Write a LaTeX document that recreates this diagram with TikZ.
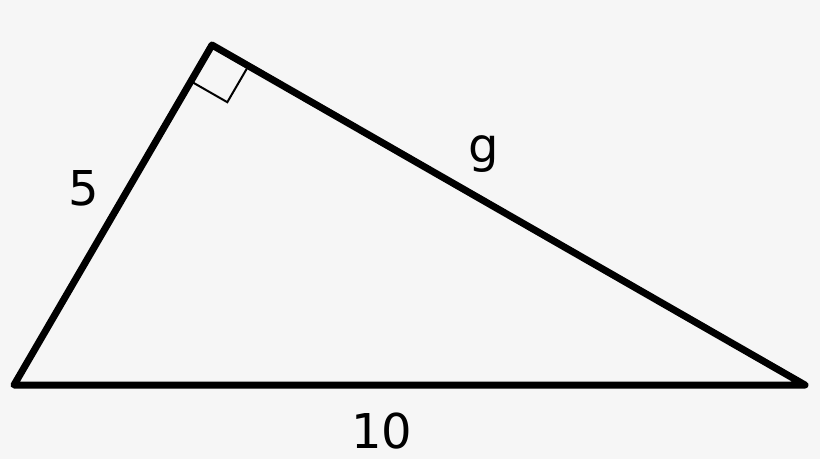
\documentclass[tikz,border=0pt]{standalone}
\usepackage{fontspec}
\setmainfont{DejaVu Sans}
\usetikzlibrary{calc}
\definecolor{paper}{RGB}{246,246,246}

\begin{document}
\begin{tikzpicture}[x=1pt,y=-1pt,every node/.style={inner sep=0,outer sep=0,font=\fontsize{48}{58}\selectfont},
    side/.style={line width=7pt,line join=round,line cap=round}]
	\fill[paper] (0,0) rectangle (820,459);
	\useasboundingbox (0,0) rectangle (820,459);
	\coordinate (A) at (14,385);
	\coordinate (B) at (212,45);
	\coordinate (C) at (805,385);
	% right angle mark
	\coordinate (P) at ($(B)!42pt!(A)$);
	\coordinate (Q) at ($(B)!42pt!(C)$);
	\draw[line width=2pt] (P) -- ($(P)+(Q)-(B)$) -- (Q);
	\draw[side] (A) -- (B) -- (C) -- cycle;
	\node (five) at (84,188) {5};
	\node (g) at (484,154) {g};
	\node (ten) at (382,431) {10};
\end{tikzpicture}
\end{document}
